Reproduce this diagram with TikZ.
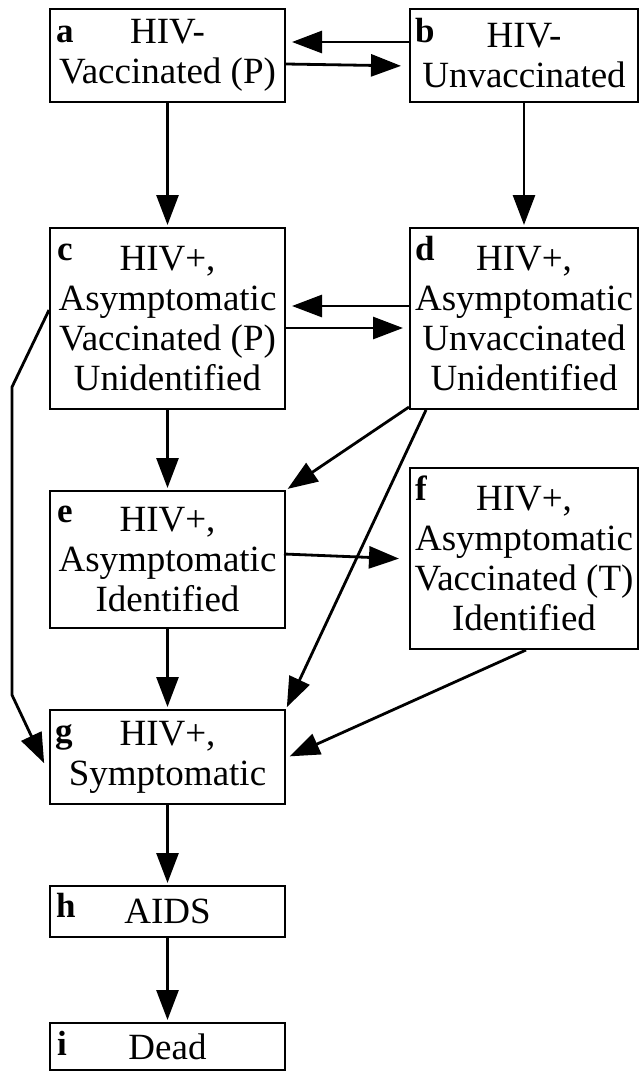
\documentclass[tikz,border=0pt]{standalone}
\usepackage{fontspec}
\setmainfont{Liberation Serif}
\usetikzlibrary{arrows.meta,calc}
\tikzset{
  box/.style={draw, line width=2pt, rectangle, inner sep=0pt, anchor=north west,
    align=center, font=\fontsize{37}{40}\selectfont},
  lbl/.style={anchor=base west, inner sep=0pt, font=\fontsize{35}{35}\selectfont\bfseries},
  arr/.style={line width=2.8pt, -{Triangle[length=30pt,width=22pt]}, shorten >=2pt},
}
\begin{document}
\begin{tikzpicture}[x=1pt,y=-1pt]
\useasboundingbox (0,0) rectangle (639,1072);
\node[box, minimum width=235pt, minimum height=93pt]  (a) at (49,8)   {HIV-\\Vaccinated (P)};
\node[box, minimum width=228pt, minimum height=93pt]  (b) at (409,8)  {HIV-\\Unvaccinated};
\node[box, minimum width=235pt, minimum height=181pt] (c) at (49,227) {HIV+,\\Asymptomatic\\Vaccinated (P)\\Unidentified};
\node[box, minimum width=228pt, minimum height=181pt] (d) at (409,227) {HIV+,\\Asymptomatic\\Unvaccinated\\Unidentified};
\node[box, minimum width=235pt, minimum height=137pt] (e) at (49,490) {HIV+,\\Asymptomatic\\Identified};
\node[box, minimum width=228pt, minimum height=181pt] (f) at (409,467) {HIV+,\\Asymptomatic\\Vaccinated (T)\\Identified};
\node[box, minimum width=235pt, minimum height=94pt]  (g) at (49,709) {HIV+,\\Symptomatic};
\node[box, minimum width=235pt, minimum height=51pt]  (h) at (49,885) {AIDS};
\node[box, minimum width=235pt, minimum height=47pt]  (i) at (49,1022) {Dead};
% labels
\node[lbl] (la) at ($(a.north west)+(7,34)$) {a};
\node[lbl] (lb) at ($(b.north west)+(6,34)$) {b};
\node[lbl] (lc) at ($(c.north west)+(8,33)$) {c};
\node[lbl] (ld) at ($(d.north west)+(6,33)$) {d};
\node[lbl] (le) at ($(e.north west)+(8,32)$) {e};
\node[lbl] (lf) at ($(f.north west)+(6,33)$) {f};
\node[lbl] (lg) at ($(g.north west)+(6,33)$) {g};
\node[lbl] (lh) at ($(h.north west)+(7,32)$) {h};
\node[lbl] (li) at ($(i.north west)+(8,33)$) {i};
% bend points
\coordinate (cg1) at (12,387);
\coordinate (cg2) at (12,695);
% connectors
\draw[arr, shorten >=6pt] ($(b.north west)+(0,34)$) -- ($(a.north east)+(0,34)$);
\draw[arr, shorten >=8pt] ($(a.north east)+(0,56)$) -- ($(b.north west)+(0,58)$);
\draw[arr] (a.south) -- (c.north);
\draw[arr] (b.south) -- (d.north);
\draw[arr, shorten >=6pt] ($(d.north west)+(0,79)$) -- ($(c.north east)+(0,79)$);
\draw[arr, shorten >=6pt] ($(c.north east)+(0,101)$) -- ($(d.north west)+(0,101)$);
\draw[arr] (c.south) -- (e.north);
\draw[arr] ($(d.south west)+(0,-3)$) -- (e.north east);
\draw[arr] ($(d.south west)+(17,0)$) -- (g.north east);
\draw[arr, shorten >=10pt] ($(e.north west)+(235,64)$) -- ($(f.north west)+(0,92)$);
\draw[arr] (e.south) -- (g.north);
\draw[arr, shorten >=4pt] ($(f.south west)+(117,0)$) -- ($(g.north east)+(0,49)$);
\draw[arr] ($(c.north west)+(0,83)$) -- (cg1) -- (cg2) -- ($(g.north west)+(-4,56)$);
\draw[arr] (g.south) -- (h.north);
\draw[arr] (h.south) -- (i.north);
\end{tikzpicture}
\end{document}
